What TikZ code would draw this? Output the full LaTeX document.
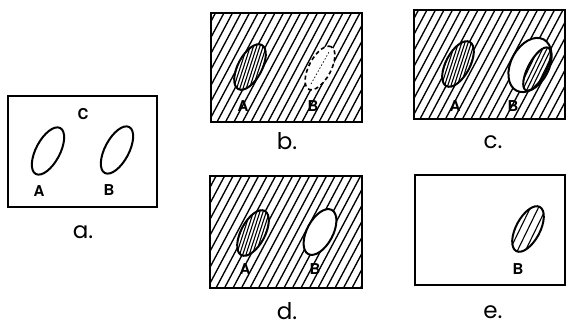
\documentclass[tikz,border=0pt]{standalone}
\usepackage{fontspec}
\setmainfont{Poppins}
\newfontfamily\lblfont{TeX Gyre Heros}
\tikzset{
  frame/.style={line width=2pt},
  oval/.style={line width=2pt},
  hatch/.style={line width=1.35pt},
  thinhatch/.style={line width=1.1pt},
  lbl/.style={inner sep=0pt, font=\lblfont\fontsize{15}{15}\selectfont\bfseries},
  caption/.style={inner sep=0pt, font=\fontsize{23}{23}\selectfont}
}
% diagonal hatching of a whole panel: x0, y0, x1, y1
\newcommand\panelhatch[4]{%
  \begin{scope}
    \clip (#1,#2) rectangle (#3,#4);
    \foreach \k in {0,...,27} \draw[hatch] ({#1-62+\k*8.5},#2) -- ++(62:150);
  \end{scope}}
% white oval, hatched inside: cx, cy, a, b, spacing, angle
\newcommand\hatchedoval[6]{%
  \fill[white, rotate around={62:(#1,#2)}] (#1,#2) ellipse [x radius=#3, y radius=#4];
  \begin{scope}
    \clip[rotate around={62:(#1,#2)}] (#1,#2) ellipse [x radius=#3, y radius=#4];
    \foreach \k in {-12,...,12} \draw[thinhatch] ({#1+\k*#5},#2) ++(#6:-45) -- ++(#6:90);
  \end{scope}
  \draw[oval, rotate around={62:(#1,#2)}] (#1,#2) ellipse [x radius=#3, y radius=#4];}
\begin{document}
\begin{tikzpicture}[x=1pt,y=1pt]
\useasboundingbox (0,0) rectangle (567,327);

% panel a
\draw[frame] (8,120) rectangle (157,231);
\draw[oval, rotate around={62:(48,176)}] (48,176) ellipse [x radius=26, y radius=12];
\draw[oval, rotate around={62:(117,177)}] (117,177) ellipse [x radius=26, y radius=12];
\node[lbl] (aC) at (83,213) {C};
\node[lbl] (aA) at (39,136) {A};
\node[lbl] (aB) at (109,137) {B};
\node[caption] (capa) at (83,95) {a.};

% panel b
\panelhatch{211}{205}{362}{314}
\draw[frame] (211,205) rectangle (362,314);
\hatchedoval{250}{260}{25}{12}{3.2}{72}
\fill[white, rotate around={62:(320,259)}] (320,259) ellipse [x radius=24, y radius=11];
\draw[line width=1.6pt, dash pattern=on 4pt off 3pt, rotate around={62:(320,259)}] (320,259) ellipse [x radius=24, y radius=11];
\draw[line width=0.7pt, dash pattern=on 1.5pt off 2pt] (311,243) -- (329,275);
\node[lbl] (bA) at (243,221) {A};
\node[lbl] (bB) at (313,221) {B};
\node[caption] (capb) at (287,186) {b.};

% panel c
\panelhatch{414}{208}{565}{317}
\draw[frame] (414,208) rectangle (565,317);
\hatchedoval{458}{263}{25}{12}{3.2}{72}
\fill[white, rotate around={62:(530,262)}] (530,262) ellipse [x radius=29, y radius=19];
\draw[oval, rotate around={62:(530,262)}] (530,262) ellipse [x radius=29, y radius=19];
\hatchedoval{537}{258}{24}{9}{4.2}{64}
\node[lbl] (cA) at (455,221) {A};
\node[lbl] (cB) at (513,221) {B};
\node[caption] (capc) at (493,185) {c.};

% panel d
\panelhatch{210}{39}{362}{151}
\draw[frame] (210,39) rectangle (362,151);
\hatchedoval{253}{94}{25}{12}{3.2}{72}
\fill[white, rotate around={62:(320,95)}] (320,95) ellipse [x radius=25, y radius=13];
\draw[oval, rotate around={62:(320,95)}] (320,95) ellipse [x radius=25, y radius=13];
\node[lbl] (dA) at (245,58) {A};
\node[lbl] (dB) at (315,58) {B};
\node[caption] (capd) at (287,16) {d.};

% panel e
\draw[frame] (415,42) rectangle (565,152);
\hatchedoval{528}{98}{25}{12}{8}{64}
\node[lbl] (eB) at (518,58) {B};
\node[caption] (cape) at (493,15) {e.};
\end{tikzpicture}
\end{document}
